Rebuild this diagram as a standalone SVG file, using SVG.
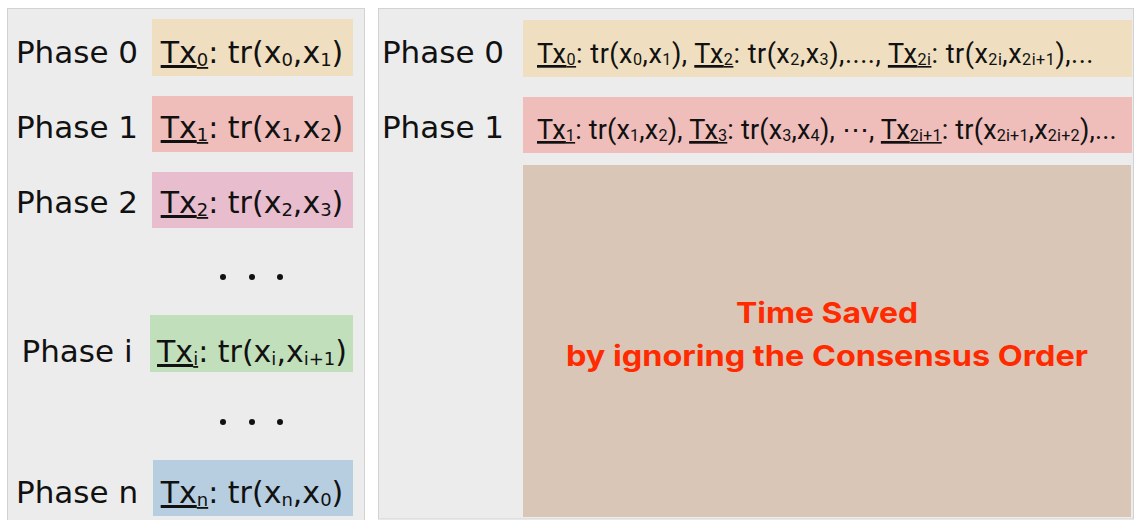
<svg xmlns="http://www.w3.org/2000/svg" width="1135" height="520" viewBox="0 0 1135 520">
<style>
.panel{fill:#ececec;stroke:#d2d2d2;stroke-width:1}
.lbl{font-family:"DejaVu Sans","Liberation Sans",sans-serif;font-size:31px;fill:#111;text-anchor:middle}
.tx{font-family:"DejaVu Sans","Liberation Sans",sans-serif;font-size:30px;fill:#111;text-anchor:middle}
.txr{font-family:Roboto,"Liberation Sans",sans-serif;font-size:27px;fill:#111}
.sub{font-size:0.6em}
.u{text-decoration:underline}
.red{font-family:Inter,"Liberation Sans",sans-serif;font-weight:700;font-size:29px;fill:#ff2a00;text-anchor:middle}
.dot{fill:#111}
</style>
<rect width="1135" height="520" fill="#ffffff"/>
<rect class="panel" x="7.5" y="8.5" width="357" height="520"/>
<rect class="panel" x="378.5" y="8.5" width="755" height="510.5"/>

<g id="left-phase0">
<text class="lbl" x="77" y="63">Phase 0</text>
<rect x="152" y="19" width="201" height="57" fill="#efdfc0"/>
<text class="tx" x="252" y="63"><tspan class="u">Tx<tspan class="sub" dy="3">0</tspan></tspan><tspan dy="-3">: tr(x</tspan><tspan class="sub" dy="3">0</tspan><tspan dy="-3">,x</tspan><tspan class="sub" dy="3">1</tspan><tspan dy="-3">)</tspan></text>
</g>
<g id="left-phase1">
<text class="lbl" x="77" y="138">Phase 1</text>
<rect x="152" y="96" width="201" height="56" fill="#efbebb"/>
<text class="tx" x="252" y="138"><tspan class="u">Tx<tspan class="sub" dy="3">1</tspan></tspan><tspan dy="-3">: tr(x</tspan><tspan class="sub" dy="3">1</tspan><tspan dy="-3">,x</tspan><tspan class="sub" dy="3">2</tspan><tspan dy="-3">)</tspan></text>
</g>
<g id="left-phase2">
<text class="lbl" x="77" y="213">Phase 2</text>
<rect x="152" y="172" width="201" height="56" fill="#e8bece"/>
<text class="tx" x="252" y="213"><tspan class="u">Tx<tspan class="sub" dy="3">2</tspan></tspan><tspan dy="-3">: tr(x</tspan><tspan class="sub" dy="3">2</tspan><tspan dy="-3">,x</tspan><tspan class="sub" dy="3">3</tspan><tspan dy="-3">)</tspan></text>
</g>
<g id="left-dots1">
<circle class="dot" cx="223" cy="277" r="3"/><circle class="dot" cx="252" cy="277" r="3"/><circle class="dot" cx="280" cy="277" r="3"/>
</g>
<g id="left-phasei">
<text class="lbl" x="77" y="362">Phase i</text>
<rect x="150" y="315" width="203" height="57" fill="#c1dfbb"/>
<text class="tx" x="252" y="362"><tspan class="u">Tx<tspan class="sub" dy="3">i</tspan></tspan><tspan dy="-3">: tr(x</tspan><tspan class="sub" dy="3">i</tspan><tspan dy="-3">,x</tspan><tspan class="sub" dy="3">i+1</tspan><tspan dy="-3">)</tspan></text>
</g>
<g id="left-dots2">
<circle class="dot" cx="223" cy="422" r="3"/><circle class="dot" cx="252" cy="422" r="3"/><circle class="dot" cx="280" cy="422" r="3"/>
</g>
<g id="left-phasen">
<text class="lbl" x="77" y="503">Phase n</text>
<rect x="153" y="460" width="200" height="56" fill="#b7cee1"/>
<text class="tx" x="252" y="503"><tspan class="u">Tx<tspan class="sub" dy="3">n</tspan></tspan><tspan dy="-3">: tr(x</tspan><tspan class="sub" dy="3">n</tspan><tspan dy="-3">,x</tspan><tspan class="sub" dy="3">0</tspan><tspan dy="-3">)</tspan></text>
</g>

<g id="right-phase0">
<text class="lbl" x="443" y="63">Phase 0</text>
<rect x="523" y="20" width="609" height="57" fill="#efdfc0"/>
<text class="txr" x="537" y="63" letter-spacing="0.5"><tspan class="u">Tx<tspan class="sub" dy="2">0</tspan></tspan><tspan dy="-2">: tr(x</tspan><tspan class="sub" dy="2">0</tspan><tspan dy="-2">,x</tspan><tspan class="sub" dy="2">1</tspan><tspan dy="-2">), </tspan><tspan class="u">Tx<tspan class="sub" dy="2">2</tspan></tspan><tspan dy="-2">: tr(x</tspan><tspan class="sub" dy="2">2</tspan><tspan dy="-2">,x</tspan><tspan class="sub" dy="2">3</tspan><tspan dy="-2">),...., </tspan><tspan class="u">Tx<tspan class="sub" dy="2">2i</tspan></tspan><tspan dy="-2">: tr(x</tspan><tspan class="sub" dy="2">2i</tspan><tspan dy="-2">,x</tspan><tspan class="sub" dy="2">2i+1</tspan><tspan dy="-2">),...</tspan></text>
</g>
<g id="right-phase1">
<text class="lbl" x="443" y="138">Phase 1</text>
<rect x="523" y="97" width="609" height="56" fill="#efbebb"/>
<text class="txr" x="537" y="139" letter-spacing="0.18"><tspan class="u">Tx<tspan class="sub" dy="2">1</tspan></tspan><tspan dy="-2">: tr(x</tspan><tspan class="sub" dy="2">1</tspan><tspan dy="-2">,x</tspan><tspan class="sub" dy="2">2</tspan><tspan dy="-2">), </tspan><tspan class="u">Tx<tspan class="sub" dy="2">3</tspan></tspan><tspan dy="-2">: tr(x</tspan><tspan class="sub" dy="2">3</tspan><tspan dy="-2">,x</tspan><tspan class="sub" dy="2">4</tspan><tspan dy="-2">), ⋯, </tspan><tspan class="u">Tx<tspan class="sub" dy="2">2i+1</tspan></tspan><tspan dy="-2">: tr(x</tspan><tspan class="sub" dy="2">2i+1</tspan><tspan dy="-2">,x</tspan><tspan class="sub" dy="2">2i+2</tspan><tspan dy="-2">),...</tspan></text>
</g>
<g id="time-saved">
<rect x="523" y="165" width="608" height="352" fill="#d9c6b7"/>
<text class="red" x="827" y="323" textLength="182" lengthAdjust="spacingAndGlyphs">Time Saved</text>
<text class="red" x="827" y="366" textLength="522" lengthAdjust="spacingAndGlyphs">by ignoring the Consensus Order</text>
</g>
<g id="connectors"></g>
</svg>
